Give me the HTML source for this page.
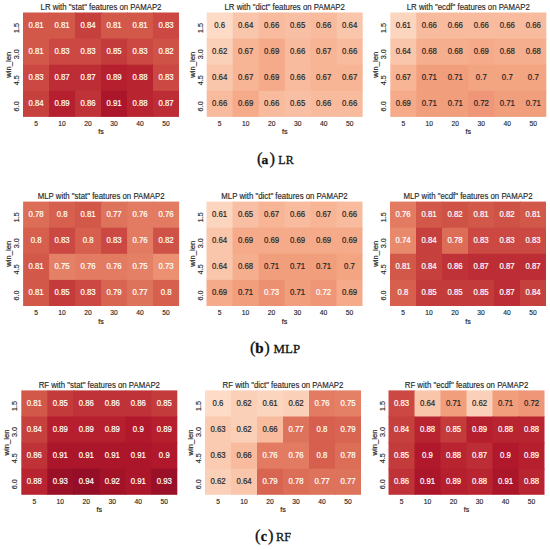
<!DOCTYPE html>
<html><head><meta charset="utf-8"><style>
html,body{margin:0;padding:0;background:#fff;}
body{width:550px;height:550px;overflow:hidden;}
svg{display:block;}
text{font-family:"Liberation Sans",sans-serif;}
.an,.ti,.tk,.lb{stroke-width:0.2px;paint-order:stroke;}
.ti,.tk,.lb{stroke:#262626;}
.tk{stroke-width:0.15px;}
.ti{stroke-width:0.15px;}
.cap{stroke-width:0.3px;stroke:#111;paint-order:stroke;}
.an{font-size:8.5px;text-anchor:middle;}
.ti{font-size:8.5px;text-anchor:middle;fill:#262626;}
.tk{font-size:7.3px;text-anchor:middle;fill:#262626;}
.lb{font-size:7.7px;text-anchor:middle;fill:#262626;}
.cap{font-family:"Liberation Serif",serif;}
</style></head><body>
<svg width="550" height="550" viewBox="0 0 550 550">
<rect width="550" height="550" fill="#fff"/>
<rect x="23.00" y="12.50" width="27.00" height="27.10" fill="#d25849"/>
<rect x="49.00" y="12.50" width="27.00" height="27.10" fill="#d25849"/>
<rect x="75.00" y="12.50" width="27.00" height="27.10" fill="#c6413e"/>
<rect x="101.00" y="12.50" width="27.00" height="27.10" fill="#d25849"/>
<rect x="127.00" y="12.50" width="27.00" height="27.10" fill="#d25849"/>
<rect x="153.00" y="12.50" width="26.00" height="27.10" fill="#cb4942"/>
<rect x="23.00" y="38.60" width="27.00" height="27.10" fill="#d25849"/>
<rect x="49.00" y="38.60" width="27.00" height="27.10" fill="#cb4942"/>
<rect x="75.00" y="38.60" width="27.00" height="27.10" fill="#cb4942"/>
<rect x="101.00" y="38.60" width="27.00" height="27.10" fill="#c43b3c"/>
<rect x="127.00" y="38.60" width="27.00" height="27.10" fill="#cb4942"/>
<rect x="153.00" y="38.60" width="26.00" height="27.10" fill="#cf5246"/>
<rect x="23.00" y="64.70" width="27.00" height="27.10" fill="#cb4942"/>
<rect x="49.00" y="64.70" width="27.00" height="27.10" fill="#bd2d35"/>
<rect x="75.00" y="64.70" width="27.00" height="27.10" fill="#bd2d35"/>
<rect x="101.00" y="64.70" width="27.00" height="27.10" fill="#b61f2e"/>
<rect x="127.00" y="64.70" width="27.00" height="27.10" fill="#b82531"/>
<rect x="153.00" y="64.70" width="26.00" height="27.10" fill="#cb4942"/>
<rect x="23.00" y="90.80" width="27.00" height="26.10" fill="#c6413e"/>
<rect x="49.00" y="90.80" width="27.00" height="26.10" fill="#b61f2e"/>
<rect x="75.00" y="90.80" width="27.00" height="26.10" fill="#bf3338"/>
<rect x="101.00" y="90.80" width="27.00" height="26.10" fill="#ab162a"/>
<rect x="127.00" y="90.80" width="27.00" height="26.10" fill="#b82531"/>
<rect x="153.00" y="90.80" width="26.00" height="26.10" fill="#bd2d35"/>
<text transform="translate(36.00,28.05) scale(0.92,1)" fill="#ffffff" stroke="#ffffff" class="an">0.81</text>
<text transform="translate(62.00,28.05) scale(0.92,1)" fill="#ffffff" stroke="#ffffff" class="an">0.81</text>
<text transform="translate(88.00,28.05) scale(0.92,1)" fill="#ffffff" stroke="#ffffff" class="an">0.84</text>
<text transform="translate(114.00,28.05) scale(0.92,1)" fill="#ffffff" stroke="#ffffff" class="an">0.81</text>
<text transform="translate(140.00,28.05) scale(0.92,1)" fill="#ffffff" stroke="#ffffff" class="an">0.81</text>
<text transform="translate(166.00,28.05) scale(0.92,1)" fill="#ffffff" stroke="#ffffff" class="an">0.83</text>
<text transform="translate(36.00,54.15) scale(0.92,1)" fill="#ffffff" stroke="#ffffff" class="an">0.81</text>
<text transform="translate(62.00,54.15) scale(0.92,1)" fill="#ffffff" stroke="#ffffff" class="an">0.83</text>
<text transform="translate(88.00,54.15) scale(0.92,1)" fill="#ffffff" stroke="#ffffff" class="an">0.83</text>
<text transform="translate(114.00,54.15) scale(0.92,1)" fill="#ffffff" stroke="#ffffff" class="an">0.85</text>
<text transform="translate(140.00,54.15) scale(0.92,1)" fill="#ffffff" stroke="#ffffff" class="an">0.83</text>
<text transform="translate(166.00,54.15) scale(0.92,1)" fill="#ffffff" stroke="#ffffff" class="an">0.82</text>
<text transform="translate(36.00,80.25) scale(0.92,1)" fill="#ffffff" stroke="#ffffff" class="an">0.83</text>
<text transform="translate(62.00,80.25) scale(0.92,1)" fill="#ffffff" stroke="#ffffff" class="an">0.87</text>
<text transform="translate(88.00,80.25) scale(0.92,1)" fill="#ffffff" stroke="#ffffff" class="an">0.87</text>
<text transform="translate(114.00,80.25) scale(0.92,1)" fill="#ffffff" stroke="#ffffff" class="an">0.89</text>
<text transform="translate(140.00,80.25) scale(0.92,1)" fill="#ffffff" stroke="#ffffff" class="an">0.88</text>
<text transform="translate(166.00,80.25) scale(0.92,1)" fill="#ffffff" stroke="#ffffff" class="an">0.83</text>
<text transform="translate(36.00,106.35) scale(0.92,1)" fill="#ffffff" stroke="#ffffff" class="an">0.84</text>
<text transform="translate(62.00,106.35) scale(0.92,1)" fill="#ffffff" stroke="#ffffff" class="an">0.89</text>
<text transform="translate(88.00,106.35) scale(0.92,1)" fill="#ffffff" stroke="#ffffff" class="an">0.86</text>
<text transform="translate(114.00,106.35) scale(0.92,1)" fill="#ffffff" stroke="#ffffff" class="an">0.91</text>
<text transform="translate(140.00,106.35) scale(0.92,1)" fill="#ffffff" stroke="#ffffff" class="an">0.88</text>
<text transform="translate(166.00,106.35) scale(0.92,1)" fill="#ffffff" stroke="#ffffff" class="an">0.87</text>
<text transform="translate(101.00,10.00) scale(0.92,1)" class="ti">LR with &quot;stat&quot; features on PAMAP2</text>
<text transform="translate(36.00,125.90) scale(0.92,1)" class="tk">5</text>
<text transform="translate(62.00,125.90) scale(0.92,1)" class="tk">10</text>
<text transform="translate(88.00,125.90) scale(0.92,1)" class="tk">20</text>
<text transform="translate(114.00,125.90) scale(0.92,1)" class="tk">30</text>
<text transform="translate(140.00,125.90) scale(0.92,1)" class="tk">40</text>
<text transform="translate(166.00,125.90) scale(0.92,1)" class="tk">50</text>
<text transform="translate(19.00,28.05) scale(0.92,1) rotate(-90)" class="tk">1.5</text>
<text transform="translate(19.00,54.15) scale(0.92,1) rotate(-90)" class="tk">3.0</text>
<text transform="translate(19.00,80.25) scale(0.92,1) rotate(-90)" class="tk">4.5</text>
<text transform="translate(19.00,106.35) scale(0.92,1) rotate(-90)" class="tk">6.0</text>
<text transform="translate(101.00,134.40) scale(0.92,1)" class="lb">fs</text>
<text transform="translate(11.00,64.70) scale(0.92,1) rotate(-90)" class="lb">win_len</text>
<rect x="206.70" y="12.50" width="27.00" height="27.10" fill="#fddbc7"/>
<rect x="232.70" y="12.50" width="27.00" height="27.10" fill="#f9c6ac"/>
<rect x="258.70" y="12.50" width="27.00" height="27.10" fill="#f8bb9e"/>
<rect x="284.70" y="12.50" width="27.00" height="27.10" fill="#f8bfa4"/>
<rect x="310.70" y="12.50" width="27.00" height="27.10" fill="#f8bb9e"/>
<rect x="336.70" y="12.50" width="26.00" height="27.10" fill="#f9c6ac"/>
<rect x="206.70" y="38.60" width="27.00" height="27.10" fill="#fbd0b9"/>
<rect x="232.70" y="38.60" width="27.00" height="27.10" fill="#f7b596"/>
<rect x="258.70" y="38.60" width="27.00" height="27.10" fill="#f5aa89"/>
<rect x="284.70" y="38.60" width="27.00" height="27.10" fill="#f8bb9e"/>
<rect x="310.70" y="38.60" width="27.00" height="27.10" fill="#f7b596"/>
<rect x="336.70" y="38.60" width="26.00" height="27.10" fill="#f8bb9e"/>
<rect x="206.70" y="64.70" width="27.00" height="27.10" fill="#f9c6ac"/>
<rect x="232.70" y="64.70" width="27.00" height="27.10" fill="#f7b596"/>
<rect x="258.70" y="64.70" width="27.00" height="27.10" fill="#f5aa89"/>
<rect x="284.70" y="64.70" width="27.00" height="27.10" fill="#f8bb9e"/>
<rect x="310.70" y="64.70" width="27.00" height="27.10" fill="#f7b596"/>
<rect x="336.70" y="64.70" width="26.00" height="27.10" fill="#f7b596"/>
<rect x="206.70" y="90.80" width="27.00" height="26.10" fill="#f8bb9e"/>
<rect x="232.70" y="90.80" width="27.00" height="26.10" fill="#f5aa89"/>
<rect x="258.70" y="90.80" width="27.00" height="26.10" fill="#f8bb9e"/>
<rect x="284.70" y="90.80" width="27.00" height="26.10" fill="#f8bfa4"/>
<rect x="310.70" y="90.80" width="27.00" height="26.10" fill="#f8bb9e"/>
<rect x="336.70" y="90.80" width="26.00" height="26.10" fill="#f8bb9e"/>
<text transform="translate(219.70,28.05) scale(0.92,1)" fill="#262626" stroke="#262626" class="an">0.6</text>
<text transform="translate(245.70,28.05) scale(0.92,1)" fill="#262626" stroke="#262626" class="an">0.64</text>
<text transform="translate(271.70,28.05) scale(0.92,1)" fill="#262626" stroke="#262626" class="an">0.66</text>
<text transform="translate(297.70,28.05) scale(0.92,1)" fill="#262626" stroke="#262626" class="an">0.65</text>
<text transform="translate(323.70,28.05) scale(0.92,1)" fill="#262626" stroke="#262626" class="an">0.66</text>
<text transform="translate(349.70,28.05) scale(0.92,1)" fill="#262626" stroke="#262626" class="an">0.64</text>
<text transform="translate(219.70,54.15) scale(0.92,1)" fill="#262626" stroke="#262626" class="an">0.62</text>
<text transform="translate(245.70,54.15) scale(0.92,1)" fill="#262626" stroke="#262626" class="an">0.67</text>
<text transform="translate(271.70,54.15) scale(0.92,1)" fill="#262626" stroke="#262626" class="an">0.69</text>
<text transform="translate(297.70,54.15) scale(0.92,1)" fill="#262626" stroke="#262626" class="an">0.66</text>
<text transform="translate(323.70,54.15) scale(0.92,1)" fill="#262626" stroke="#262626" class="an">0.67</text>
<text transform="translate(349.70,54.15) scale(0.92,1)" fill="#262626" stroke="#262626" class="an">0.66</text>
<text transform="translate(219.70,80.25) scale(0.92,1)" fill="#262626" stroke="#262626" class="an">0.64</text>
<text transform="translate(245.70,80.25) scale(0.92,1)" fill="#262626" stroke="#262626" class="an">0.67</text>
<text transform="translate(271.70,80.25) scale(0.92,1)" fill="#262626" stroke="#262626" class="an">0.69</text>
<text transform="translate(297.70,80.25) scale(0.92,1)" fill="#262626" stroke="#262626" class="an">0.66</text>
<text transform="translate(323.70,80.25) scale(0.92,1)" fill="#262626" stroke="#262626" class="an">0.67</text>
<text transform="translate(349.70,80.25) scale(0.92,1)" fill="#262626" stroke="#262626" class="an">0.67</text>
<text transform="translate(219.70,106.35) scale(0.92,1)" fill="#262626" stroke="#262626" class="an">0.66</text>
<text transform="translate(245.70,106.35) scale(0.92,1)" fill="#262626" stroke="#262626" class="an">0.69</text>
<text transform="translate(271.70,106.35) scale(0.92,1)" fill="#262626" stroke="#262626" class="an">0.66</text>
<text transform="translate(297.70,106.35) scale(0.92,1)" fill="#262626" stroke="#262626" class="an">0.65</text>
<text transform="translate(323.70,106.35) scale(0.92,1)" fill="#262626" stroke="#262626" class="an">0.66</text>
<text transform="translate(349.70,106.35) scale(0.92,1)" fill="#262626" stroke="#262626" class="an">0.66</text>
<text transform="translate(284.70,10.00) scale(0.92,1)" class="ti">LR with &quot;dict&quot; features on PAMAP2</text>
<text transform="translate(219.70,125.90) scale(0.92,1)" class="tk">5</text>
<text transform="translate(245.70,125.90) scale(0.92,1)" class="tk">10</text>
<text transform="translate(271.70,125.90) scale(0.92,1)" class="tk">20</text>
<text transform="translate(297.70,125.90) scale(0.92,1)" class="tk">30</text>
<text transform="translate(323.70,125.90) scale(0.92,1)" class="tk">40</text>
<text transform="translate(349.70,125.90) scale(0.92,1)" class="tk">50</text>
<text transform="translate(202.70,28.05) scale(0.92,1) rotate(-90)" class="tk">1.5</text>
<text transform="translate(202.70,54.15) scale(0.92,1) rotate(-90)" class="tk">3.0</text>
<text transform="translate(202.70,80.25) scale(0.92,1) rotate(-90)" class="tk">4.5</text>
<text transform="translate(202.70,106.35) scale(0.92,1) rotate(-90)" class="tk">6.0</text>
<text transform="translate(284.70,134.40) scale(0.92,1)" class="lb">fs</text>
<text transform="translate(194.70,64.70) scale(0.92,1) rotate(-90)" class="lb">win_len</text>
<rect x="390.30" y="12.50" width="27.00" height="27.10" fill="#fcd5bf"/>
<rect x="416.30" y="12.50" width="27.00" height="27.10" fill="#f8bb9e"/>
<rect x="442.30" y="12.50" width="27.00" height="27.10" fill="#f8bb9e"/>
<rect x="468.30" y="12.50" width="27.00" height="27.10" fill="#f8bb9e"/>
<rect x="494.30" y="12.50" width="27.00" height="27.10" fill="#f8bb9e"/>
<rect x="520.30" y="12.50" width="26.00" height="27.10" fill="#f8bb9e"/>
<rect x="390.30" y="38.60" width="27.00" height="27.10" fill="#f9c6ac"/>
<rect x="416.30" y="38.60" width="27.00" height="27.10" fill="#f6af8e"/>
<rect x="442.30" y="38.60" width="27.00" height="27.10" fill="#f6af8e"/>
<rect x="468.30" y="38.60" width="27.00" height="27.10" fill="#f5aa89"/>
<rect x="494.30" y="38.60" width="27.00" height="27.10" fill="#f6af8e"/>
<rect x="520.30" y="38.60" width="26.00" height="27.10" fill="#f6af8e"/>
<rect x="390.30" y="64.70" width="27.00" height="27.10" fill="#f7b596"/>
<rect x="416.30" y="64.70" width="27.00" height="27.10" fill="#f19e7d"/>
<rect x="442.30" y="64.70" width="27.00" height="27.10" fill="#f19e7d"/>
<rect x="468.30" y="64.70" width="27.00" height="27.10" fill="#f3a481"/>
<rect x="494.30" y="64.70" width="27.00" height="27.10" fill="#f3a481"/>
<rect x="520.30" y="64.70" width="26.00" height="27.10" fill="#f3a481"/>
<rect x="390.30" y="90.80" width="27.00" height="26.10" fill="#f5aa89"/>
<rect x="416.30" y="90.80" width="27.00" height="26.10" fill="#f19e7d"/>
<rect x="442.30" y="90.80" width="27.00" height="26.10" fill="#f19e7d"/>
<rect x="468.30" y="90.80" width="27.00" height="26.10" fill="#ee9677"/>
<rect x="494.30" y="90.80" width="27.00" height="26.10" fill="#f19e7d"/>
<rect x="520.30" y="90.80" width="26.00" height="26.10" fill="#f19e7d"/>
<text transform="translate(403.30,28.05) scale(0.92,1)" fill="#262626" stroke="#262626" class="an">0.61</text>
<text transform="translate(429.30,28.05) scale(0.92,1)" fill="#262626" stroke="#262626" class="an">0.66</text>
<text transform="translate(455.30,28.05) scale(0.92,1)" fill="#262626" stroke="#262626" class="an">0.66</text>
<text transform="translate(481.30,28.05) scale(0.92,1)" fill="#262626" stroke="#262626" class="an">0.66</text>
<text transform="translate(507.30,28.05) scale(0.92,1)" fill="#262626" stroke="#262626" class="an">0.66</text>
<text transform="translate(533.30,28.05) scale(0.92,1)" fill="#262626" stroke="#262626" class="an">0.66</text>
<text transform="translate(403.30,54.15) scale(0.92,1)" fill="#262626" stroke="#262626" class="an">0.64</text>
<text transform="translate(429.30,54.15) scale(0.92,1)" fill="#262626" stroke="#262626" class="an">0.68</text>
<text transform="translate(455.30,54.15) scale(0.92,1)" fill="#262626" stroke="#262626" class="an">0.68</text>
<text transform="translate(481.30,54.15) scale(0.92,1)" fill="#262626" stroke="#262626" class="an">0.69</text>
<text transform="translate(507.30,54.15) scale(0.92,1)" fill="#262626" stroke="#262626" class="an">0.68</text>
<text transform="translate(533.30,54.15) scale(0.92,1)" fill="#262626" stroke="#262626" class="an">0.68</text>
<text transform="translate(403.30,80.25) scale(0.92,1)" fill="#262626" stroke="#262626" class="an">0.67</text>
<text transform="translate(429.30,80.25) scale(0.92,1)" fill="#262626" stroke="#262626" class="an">0.71</text>
<text transform="translate(455.30,80.25) scale(0.92,1)" fill="#262626" stroke="#262626" class="an">0.71</text>
<text transform="translate(481.30,80.25) scale(0.92,1)" fill="#262626" stroke="#262626" class="an">0.7</text>
<text transform="translate(507.30,80.25) scale(0.92,1)" fill="#262626" stroke="#262626" class="an">0.7</text>
<text transform="translate(533.30,80.25) scale(0.92,1)" fill="#262626" stroke="#262626" class="an">0.7</text>
<text transform="translate(403.30,106.35) scale(0.92,1)" fill="#262626" stroke="#262626" class="an">0.69</text>
<text transform="translate(429.30,106.35) scale(0.92,1)" fill="#262626" stroke="#262626" class="an">0.71</text>
<text transform="translate(455.30,106.35) scale(0.92,1)" fill="#262626" stroke="#262626" class="an">0.71</text>
<text transform="translate(481.30,106.35) scale(0.92,1)" fill="#262626" stroke="#262626" class="an">0.72</text>
<text transform="translate(507.30,106.35) scale(0.92,1)" fill="#262626" stroke="#262626" class="an">0.71</text>
<text transform="translate(533.30,106.35) scale(0.92,1)" fill="#262626" stroke="#262626" class="an">0.71</text>
<text transform="translate(468.30,10.00) scale(0.92,1)" class="ti">LR with &quot;ecdf&quot; features on PAMAP2</text>
<text transform="translate(403.30,125.90) scale(0.92,1)" class="tk">5</text>
<text transform="translate(429.30,125.90) scale(0.92,1)" class="tk">10</text>
<text transform="translate(455.30,125.90) scale(0.92,1)" class="tk">20</text>
<text transform="translate(481.30,125.90) scale(0.92,1)" class="tk">30</text>
<text transform="translate(507.30,125.90) scale(0.92,1)" class="tk">40</text>
<text transform="translate(533.30,125.90) scale(0.92,1)" class="tk">50</text>
<text transform="translate(386.30,28.05) scale(0.92,1) rotate(-90)" class="tk">1.5</text>
<text transform="translate(386.30,54.15) scale(0.92,1) rotate(-90)" class="tk">3.0</text>
<text transform="translate(386.30,80.25) scale(0.92,1) rotate(-90)" class="tk">4.5</text>
<text transform="translate(386.30,106.35) scale(0.92,1) rotate(-90)" class="tk">6.0</text>
<text transform="translate(468.30,134.40) scale(0.92,1)" class="lb">fs</text>
<text transform="translate(378.30,64.70) scale(0.92,1) rotate(-90)" class="lb">win_len</text>
<text x="256.96" y="163.70" font-size="16.5" class="cap" fill="#111">(</text>
<text x="261.50" y="163.70" font-size="13.5" font-weight="bold" class="cap" fill="#111">a</text>
<text x="269.40" y="163.70" font-size="16.5" class="cap" fill="#111">)</text>
<text x="278.35" y="163.70" font-size="12" class="cap" fill="#111" textLength="15.26" lengthAdjust="spacingAndGlyphs">LR</text>
<rect x="23.10" y="201.60" width="27.00" height="27.10" fill="#dc6e57"/>
<rect x="49.10" y="201.60" width="27.00" height="27.10" fill="#d6604d"/>
<rect x="75.10" y="201.60" width="27.00" height="27.10" fill="#d25849"/>
<rect x="101.10" y="201.60" width="27.00" height="27.10" fill="#de735c"/>
<rect x="127.10" y="201.60" width="27.00" height="27.10" fill="#e27b62"/>
<rect x="153.10" y="201.60" width="26.00" height="27.10" fill="#e27b62"/>
<rect x="23.10" y="227.70" width="27.00" height="27.10" fill="#d6604d"/>
<rect x="49.10" y="227.70" width="27.00" height="27.10" fill="#cb4942"/>
<rect x="75.10" y="227.70" width="27.00" height="27.10" fill="#d6604d"/>
<rect x="101.10" y="227.70" width="27.00" height="27.10" fill="#cb4942"/>
<rect x="127.10" y="227.70" width="27.00" height="27.10" fill="#e27b62"/>
<rect x="153.10" y="227.70" width="26.00" height="27.10" fill="#cf5246"/>
<rect x="23.10" y="253.80" width="27.00" height="27.10" fill="#d25849"/>
<rect x="49.10" y="253.80" width="27.00" height="27.10" fill="#e48066"/>
<rect x="75.10" y="253.80" width="27.00" height="27.10" fill="#e27b62"/>
<rect x="101.10" y="253.80" width="27.00" height="27.10" fill="#e27b62"/>
<rect x="127.10" y="253.80" width="27.00" height="27.10" fill="#e48066"/>
<rect x="153.10" y="253.80" width="26.00" height="27.10" fill="#eb9172"/>
<rect x="23.10" y="279.90" width="27.00" height="26.10" fill="#d25849"/>
<rect x="49.10" y="279.90" width="27.00" height="26.10" fill="#c43b3c"/>
<rect x="75.10" y="279.90" width="27.00" height="26.10" fill="#cb4942"/>
<rect x="101.10" y="279.90" width="27.00" height="26.10" fill="#d86551"/>
<rect x="127.10" y="279.90" width="27.00" height="26.10" fill="#de735c"/>
<rect x="153.10" y="279.90" width="26.00" height="26.10" fill="#d6604d"/>
<text transform="translate(36.10,217.15) scale(0.92,1)" fill="#ffffff" stroke="#ffffff" class="an">0.78</text>
<text transform="translate(62.10,217.15) scale(0.92,1)" fill="#ffffff" stroke="#ffffff" class="an">0.8</text>
<text transform="translate(88.10,217.15) scale(0.92,1)" fill="#ffffff" stroke="#ffffff" class="an">0.81</text>
<text transform="translate(114.10,217.15) scale(0.92,1)" fill="#ffffff" stroke="#ffffff" class="an">0.77</text>
<text transform="translate(140.10,217.15) scale(0.92,1)" fill="#ffffff" stroke="#ffffff" class="an">0.76</text>
<text transform="translate(166.10,217.15) scale(0.92,1)" fill="#ffffff" stroke="#ffffff" class="an">0.76</text>
<text transform="translate(36.10,243.25) scale(0.92,1)" fill="#ffffff" stroke="#ffffff" class="an">0.8</text>
<text transform="translate(62.10,243.25) scale(0.92,1)" fill="#ffffff" stroke="#ffffff" class="an">0.83</text>
<text transform="translate(88.10,243.25) scale(0.92,1)" fill="#ffffff" stroke="#ffffff" class="an">0.8</text>
<text transform="translate(114.10,243.25) scale(0.92,1)" fill="#ffffff" stroke="#ffffff" class="an">0.83</text>
<text transform="translate(140.10,243.25) scale(0.92,1)" fill="#ffffff" stroke="#ffffff" class="an">0.76</text>
<text transform="translate(166.10,243.25) scale(0.92,1)" fill="#ffffff" stroke="#ffffff" class="an">0.82</text>
<text transform="translate(36.10,269.35) scale(0.92,1)" fill="#ffffff" stroke="#ffffff" class="an">0.81</text>
<text transform="translate(62.10,269.35) scale(0.92,1)" fill="#ffffff" stroke="#ffffff" class="an">0.75</text>
<text transform="translate(88.10,269.35) scale(0.92,1)" fill="#ffffff" stroke="#ffffff" class="an">0.76</text>
<text transform="translate(114.10,269.35) scale(0.92,1)" fill="#ffffff" stroke="#ffffff" class="an">0.76</text>
<text transform="translate(140.10,269.35) scale(0.92,1)" fill="#ffffff" stroke="#ffffff" class="an">0.75</text>
<text transform="translate(166.10,269.35) scale(0.92,1)" fill="#ffffff" stroke="#ffffff" class="an">0.73</text>
<text transform="translate(36.10,295.45) scale(0.92,1)" fill="#ffffff" stroke="#ffffff" class="an">0.81</text>
<text transform="translate(62.10,295.45) scale(0.92,1)" fill="#ffffff" stroke="#ffffff" class="an">0.85</text>
<text transform="translate(88.10,295.45) scale(0.92,1)" fill="#ffffff" stroke="#ffffff" class="an">0.83</text>
<text transform="translate(114.10,295.45) scale(0.92,1)" fill="#ffffff" stroke="#ffffff" class="an">0.79</text>
<text transform="translate(140.10,295.45) scale(0.92,1)" fill="#ffffff" stroke="#ffffff" class="an">0.77</text>
<text transform="translate(166.10,295.45) scale(0.92,1)" fill="#ffffff" stroke="#ffffff" class="an">0.8</text>
<text transform="translate(101.10,199.10) scale(0.92,1)" class="ti">MLP with &quot;stat&quot; features on PAMAP2</text>
<text transform="translate(36.10,315.00) scale(0.92,1)" class="tk">5</text>
<text transform="translate(62.10,315.00) scale(0.92,1)" class="tk">10</text>
<text transform="translate(88.10,315.00) scale(0.92,1)" class="tk">20</text>
<text transform="translate(114.10,315.00) scale(0.92,1)" class="tk">30</text>
<text transform="translate(140.10,315.00) scale(0.92,1)" class="tk">40</text>
<text transform="translate(166.10,315.00) scale(0.92,1)" class="tk">50</text>
<text transform="translate(19.10,217.15) scale(0.92,1) rotate(-90)" class="tk">1.5</text>
<text transform="translate(19.10,243.25) scale(0.92,1) rotate(-90)" class="tk">3.0</text>
<text transform="translate(19.10,269.35) scale(0.92,1) rotate(-90)" class="tk">4.5</text>
<text transform="translate(19.10,295.45) scale(0.92,1) rotate(-90)" class="tk">6.0</text>
<text transform="translate(101.10,323.50) scale(0.92,1)" class="lb">fs</text>
<text transform="translate(11.10,253.80) scale(0.92,1) rotate(-90)" class="lb">win_len</text>
<rect x="206.50" y="201.60" width="27.00" height="27.10" fill="#fcd5bf"/>
<rect x="232.50" y="201.60" width="27.00" height="27.10" fill="#f8bfa4"/>
<rect x="258.50" y="201.60" width="27.00" height="27.10" fill="#f7b596"/>
<rect x="284.50" y="201.60" width="27.00" height="27.10" fill="#f8bb9e"/>
<rect x="310.50" y="201.60" width="27.00" height="27.10" fill="#f7b596"/>
<rect x="336.50" y="201.60" width="26.00" height="27.10" fill="#f8bb9e"/>
<rect x="206.50" y="227.70" width="27.00" height="27.10" fill="#f9c6ac"/>
<rect x="232.50" y="227.70" width="27.00" height="27.10" fill="#f5aa89"/>
<rect x="258.50" y="227.70" width="27.00" height="27.10" fill="#f5aa89"/>
<rect x="284.50" y="227.70" width="27.00" height="27.10" fill="#f5aa89"/>
<rect x="310.50" y="227.70" width="27.00" height="27.10" fill="#f5aa89"/>
<rect x="336.50" y="227.70" width="26.00" height="27.10" fill="#f5aa89"/>
<rect x="206.50" y="253.80" width="27.00" height="27.10" fill="#f9c6ac"/>
<rect x="232.50" y="253.80" width="27.00" height="27.10" fill="#f6af8e"/>
<rect x="258.50" y="253.80" width="27.00" height="27.10" fill="#f19e7d"/>
<rect x="284.50" y="253.80" width="27.00" height="27.10" fill="#f19e7d"/>
<rect x="310.50" y="253.80" width="27.00" height="27.10" fill="#f19e7d"/>
<rect x="336.50" y="253.80" width="26.00" height="27.10" fill="#f3a481"/>
<rect x="206.50" y="279.90" width="27.00" height="26.10" fill="#f5aa89"/>
<rect x="232.50" y="279.90" width="27.00" height="26.10" fill="#f19e7d"/>
<rect x="258.50" y="279.90" width="27.00" height="26.10" fill="#eb9172"/>
<rect x="284.50" y="279.90" width="27.00" height="26.10" fill="#f19e7d"/>
<rect x="310.50" y="279.90" width="27.00" height="26.10" fill="#ee9677"/>
<rect x="336.50" y="279.90" width="26.00" height="26.10" fill="#f5aa89"/>
<text transform="translate(219.50,217.15) scale(0.92,1)" fill="#262626" stroke="#262626" class="an">0.61</text>
<text transform="translate(245.50,217.15) scale(0.92,1)" fill="#262626" stroke="#262626" class="an">0.65</text>
<text transform="translate(271.50,217.15) scale(0.92,1)" fill="#262626" stroke="#262626" class="an">0.67</text>
<text transform="translate(297.50,217.15) scale(0.92,1)" fill="#262626" stroke="#262626" class="an">0.66</text>
<text transform="translate(323.50,217.15) scale(0.92,1)" fill="#262626" stroke="#262626" class="an">0.67</text>
<text transform="translate(349.50,217.15) scale(0.92,1)" fill="#262626" stroke="#262626" class="an">0.66</text>
<text transform="translate(219.50,243.25) scale(0.92,1)" fill="#262626" stroke="#262626" class="an">0.64</text>
<text transform="translate(245.50,243.25) scale(0.92,1)" fill="#262626" stroke="#262626" class="an">0.69</text>
<text transform="translate(271.50,243.25) scale(0.92,1)" fill="#262626" stroke="#262626" class="an">0.69</text>
<text transform="translate(297.50,243.25) scale(0.92,1)" fill="#262626" stroke="#262626" class="an">0.69</text>
<text transform="translate(323.50,243.25) scale(0.92,1)" fill="#262626" stroke="#262626" class="an">0.69</text>
<text transform="translate(349.50,243.25) scale(0.92,1)" fill="#262626" stroke="#262626" class="an">0.69</text>
<text transform="translate(219.50,269.35) scale(0.92,1)" fill="#262626" stroke="#262626" class="an">0.64</text>
<text transform="translate(245.50,269.35) scale(0.92,1)" fill="#262626" stroke="#262626" class="an">0.68</text>
<text transform="translate(271.50,269.35) scale(0.92,1)" fill="#262626" stroke="#262626" class="an">0.71</text>
<text transform="translate(297.50,269.35) scale(0.92,1)" fill="#262626" stroke="#262626" class="an">0.71</text>
<text transform="translate(323.50,269.35) scale(0.92,1)" fill="#262626" stroke="#262626" class="an">0.71</text>
<text transform="translate(349.50,269.35) scale(0.92,1)" fill="#262626" stroke="#262626" class="an">0.7</text>
<text transform="translate(219.50,295.45) scale(0.92,1)" fill="#262626" stroke="#262626" class="an">0.69</text>
<text transform="translate(245.50,295.45) scale(0.92,1)" fill="#262626" stroke="#262626" class="an">0.71</text>
<text transform="translate(271.50,295.45) scale(0.92,1)" fill="#ffffff" stroke="#ffffff" class="an">0.73</text>
<text transform="translate(297.50,295.45) scale(0.92,1)" fill="#262626" stroke="#262626" class="an">0.71</text>
<text transform="translate(323.50,295.45) scale(0.92,1)" fill="#ffffff" stroke="#ffffff" class="an">0.72</text>
<text transform="translate(349.50,295.45) scale(0.92,1)" fill="#262626" stroke="#262626" class="an">0.69</text>
<text transform="translate(284.50,199.10) scale(0.92,1)" class="ti">MLP with &quot;dict&quot; features on PAMAP2</text>
<text transform="translate(219.50,315.00) scale(0.92,1)" class="tk">5</text>
<text transform="translate(245.50,315.00) scale(0.92,1)" class="tk">10</text>
<text transform="translate(271.50,315.00) scale(0.92,1)" class="tk">20</text>
<text transform="translate(297.50,315.00) scale(0.92,1)" class="tk">30</text>
<text transform="translate(323.50,315.00) scale(0.92,1)" class="tk">40</text>
<text transform="translate(349.50,315.00) scale(0.92,1)" class="tk">50</text>
<text transform="translate(202.50,217.15) scale(0.92,1) rotate(-90)" class="tk">1.5</text>
<text transform="translate(202.50,243.25) scale(0.92,1) rotate(-90)" class="tk">3.0</text>
<text transform="translate(202.50,269.35) scale(0.92,1) rotate(-90)" class="tk">4.5</text>
<text transform="translate(202.50,295.45) scale(0.92,1) rotate(-90)" class="tk">6.0</text>
<text transform="translate(284.50,323.50) scale(0.92,1)" class="lb">fs</text>
<text transform="translate(194.50,253.80) scale(0.92,1) rotate(-90)" class="lb">win_len</text>
<rect x="390.00" y="201.60" width="27.00" height="27.10" fill="#e27b62"/>
<rect x="416.00" y="201.60" width="27.00" height="27.10" fill="#d25849"/>
<rect x="442.00" y="201.60" width="27.00" height="27.10" fill="#cf5246"/>
<rect x="468.00" y="201.60" width="27.00" height="27.10" fill="#d25849"/>
<rect x="494.00" y="201.60" width="27.00" height="27.10" fill="#cf5246"/>
<rect x="520.00" y="201.60" width="26.00" height="27.10" fill="#d25849"/>
<rect x="390.00" y="227.70" width="27.00" height="27.10" fill="#e8896c"/>
<rect x="416.00" y="227.70" width="27.00" height="27.10" fill="#c6413e"/>
<rect x="442.00" y="227.70" width="27.00" height="27.10" fill="#dc6e57"/>
<rect x="468.00" y="227.70" width="27.00" height="27.10" fill="#cb4942"/>
<rect x="494.00" y="227.70" width="27.00" height="27.10" fill="#cb4942"/>
<rect x="520.00" y="227.70" width="26.00" height="27.10" fill="#cb4942"/>
<rect x="390.00" y="253.80" width="27.00" height="27.10" fill="#d25849"/>
<rect x="416.00" y="253.80" width="27.00" height="27.10" fill="#c6413e"/>
<rect x="442.00" y="253.80" width="27.00" height="27.10" fill="#bf3338"/>
<rect x="468.00" y="253.80" width="27.00" height="27.10" fill="#bd2d35"/>
<rect x="494.00" y="253.80" width="27.00" height="27.10" fill="#bd2d35"/>
<rect x="520.00" y="253.80" width="26.00" height="27.10" fill="#bd2d35"/>
<rect x="390.00" y="279.90" width="27.00" height="26.10" fill="#d6604d"/>
<rect x="416.00" y="279.90" width="27.00" height="26.10" fill="#c43b3c"/>
<rect x="442.00" y="279.90" width="27.00" height="26.10" fill="#c43b3c"/>
<rect x="468.00" y="279.90" width="27.00" height="26.10" fill="#c43b3c"/>
<rect x="494.00" y="279.90" width="27.00" height="26.10" fill="#bd2d35"/>
<rect x="520.00" y="279.90" width="26.00" height="26.10" fill="#c6413e"/>
<text transform="translate(403.00,217.15) scale(0.92,1)" fill="#ffffff" stroke="#ffffff" class="an">0.76</text>
<text transform="translate(429.00,217.15) scale(0.92,1)" fill="#ffffff" stroke="#ffffff" class="an">0.81</text>
<text transform="translate(455.00,217.15) scale(0.92,1)" fill="#ffffff" stroke="#ffffff" class="an">0.82</text>
<text transform="translate(481.00,217.15) scale(0.92,1)" fill="#ffffff" stroke="#ffffff" class="an">0.81</text>
<text transform="translate(507.00,217.15) scale(0.92,1)" fill="#ffffff" stroke="#ffffff" class="an">0.82</text>
<text transform="translate(533.00,217.15) scale(0.92,1)" fill="#ffffff" stroke="#ffffff" class="an">0.81</text>
<text transform="translate(403.00,243.25) scale(0.92,1)" fill="#ffffff" stroke="#ffffff" class="an">0.74</text>
<text transform="translate(429.00,243.25) scale(0.92,1)" fill="#ffffff" stroke="#ffffff" class="an">0.84</text>
<text transform="translate(455.00,243.25) scale(0.92,1)" fill="#ffffff" stroke="#ffffff" class="an">0.78</text>
<text transform="translate(481.00,243.25) scale(0.92,1)" fill="#ffffff" stroke="#ffffff" class="an">0.83</text>
<text transform="translate(507.00,243.25) scale(0.92,1)" fill="#ffffff" stroke="#ffffff" class="an">0.83</text>
<text transform="translate(533.00,243.25) scale(0.92,1)" fill="#ffffff" stroke="#ffffff" class="an">0.83</text>
<text transform="translate(403.00,269.35) scale(0.92,1)" fill="#ffffff" stroke="#ffffff" class="an">0.81</text>
<text transform="translate(429.00,269.35) scale(0.92,1)" fill="#ffffff" stroke="#ffffff" class="an">0.84</text>
<text transform="translate(455.00,269.35) scale(0.92,1)" fill="#ffffff" stroke="#ffffff" class="an">0.86</text>
<text transform="translate(481.00,269.35) scale(0.92,1)" fill="#ffffff" stroke="#ffffff" class="an">0.87</text>
<text transform="translate(507.00,269.35) scale(0.92,1)" fill="#ffffff" stroke="#ffffff" class="an">0.87</text>
<text transform="translate(533.00,269.35) scale(0.92,1)" fill="#ffffff" stroke="#ffffff" class="an">0.87</text>
<text transform="translate(403.00,295.45) scale(0.92,1)" fill="#ffffff" stroke="#ffffff" class="an">0.8</text>
<text transform="translate(429.00,295.45) scale(0.92,1)" fill="#ffffff" stroke="#ffffff" class="an">0.85</text>
<text transform="translate(455.00,295.45) scale(0.92,1)" fill="#ffffff" stroke="#ffffff" class="an">0.85</text>
<text transform="translate(481.00,295.45) scale(0.92,1)" fill="#ffffff" stroke="#ffffff" class="an">0.85</text>
<text transform="translate(507.00,295.45) scale(0.92,1)" fill="#ffffff" stroke="#ffffff" class="an">0.87</text>
<text transform="translate(533.00,295.45) scale(0.92,1)" fill="#ffffff" stroke="#ffffff" class="an">0.84</text>
<text transform="translate(468.00,199.10) scale(0.92,1)" class="ti">MLP with &quot;ecdf&quot; features on PAMAP2</text>
<text transform="translate(403.00,315.00) scale(0.92,1)" class="tk">5</text>
<text transform="translate(429.00,315.00) scale(0.92,1)" class="tk">10</text>
<text transform="translate(455.00,315.00) scale(0.92,1)" class="tk">20</text>
<text transform="translate(481.00,315.00) scale(0.92,1)" class="tk">30</text>
<text transform="translate(507.00,315.00) scale(0.92,1)" class="tk">40</text>
<text transform="translate(533.00,315.00) scale(0.92,1)" class="tk">50</text>
<text transform="translate(386.00,217.15) scale(0.92,1) rotate(-90)" class="tk">1.5</text>
<text transform="translate(386.00,243.25) scale(0.92,1) rotate(-90)" class="tk">3.0</text>
<text transform="translate(386.00,269.35) scale(0.92,1) rotate(-90)" class="tk">4.5</text>
<text transform="translate(386.00,295.45) scale(0.92,1) rotate(-90)" class="tk">6.0</text>
<text transform="translate(468.00,323.50) scale(0.92,1)" class="lb">fs</text>
<text transform="translate(378.00,253.80) scale(0.92,1) rotate(-90)" class="lb">win_len</text>
<text x="249.96" y="352.70" font-size="16.5" class="cap" fill="#111">(</text>
<text x="255.18" y="352.70" font-size="15" font-weight="bold" class="cap" fill="#111">b</text>
<text x="264.20" y="352.70" font-size="16.5" class="cap" fill="#111">)</text>
<text x="273.60" y="352.70" font-size="12" class="cap" fill="#111" textLength="26.50" lengthAdjust="spacingAndGlyphs">MLP</text>
<rect x="21.30" y="390.40" width="27.00" height="27.10" fill="#d25849"/>
<rect x="47.30" y="390.40" width="27.00" height="27.10" fill="#c43b3c"/>
<rect x="73.30" y="390.40" width="27.00" height="27.10" fill="#bf3338"/>
<rect x="99.30" y="390.40" width="27.00" height="27.10" fill="#bf3338"/>
<rect x="125.30" y="390.40" width="27.00" height="27.10" fill="#bf3338"/>
<rect x="151.30" y="390.40" width="26.00" height="27.10" fill="#c43b3c"/>
<rect x="21.30" y="416.50" width="27.00" height="27.10" fill="#c6413e"/>
<rect x="47.30" y="416.50" width="27.00" height="27.10" fill="#b61f2e"/>
<rect x="73.30" y="416.50" width="27.00" height="27.10" fill="#b61f2e"/>
<rect x="99.30" y="416.50" width="27.00" height="27.10" fill="#b61f2e"/>
<rect x="125.30" y="416.50" width="27.00" height="27.10" fill="#b1182b"/>
<rect x="151.30" y="416.50" width="26.00" height="27.10" fill="#b61f2e"/>
<rect x="21.30" y="442.60" width="27.00" height="27.10" fill="#bf3338"/>
<rect x="47.30" y="442.60" width="27.00" height="27.10" fill="#ab162a"/>
<rect x="73.30" y="442.60" width="27.00" height="27.10" fill="#ab162a"/>
<rect x="99.30" y="442.60" width="27.00" height="27.10" fill="#ab162a"/>
<rect x="125.30" y="442.60" width="27.00" height="27.10" fill="#ab162a"/>
<rect x="151.30" y="442.60" width="26.00" height="27.10" fill="#b1182b"/>
<rect x="21.30" y="468.70" width="27.00" height="26.10" fill="#b82531"/>
<rect x="47.30" y="468.70" width="27.00" height="26.10" fill="#991027"/>
<rect x="73.30" y="468.70" width="27.00" height="26.10" fill="#930e26"/>
<rect x="99.30" y="468.70" width="27.00" height="26.10" fill="#a21328"/>
<rect x="125.30" y="468.70" width="27.00" height="26.10" fill="#ab162a"/>
<rect x="151.30" y="468.70" width="26.00" height="26.10" fill="#991027"/>
<text transform="translate(34.30,405.95) scale(0.92,1)" fill="#ffffff" stroke="#ffffff" class="an">0.81</text>
<text transform="translate(60.30,405.95) scale(0.92,1)" fill="#ffffff" stroke="#ffffff" class="an">0.85</text>
<text transform="translate(86.30,405.95) scale(0.92,1)" fill="#ffffff" stroke="#ffffff" class="an">0.86</text>
<text transform="translate(112.30,405.95) scale(0.92,1)" fill="#ffffff" stroke="#ffffff" class="an">0.86</text>
<text transform="translate(138.30,405.95) scale(0.92,1)" fill="#ffffff" stroke="#ffffff" class="an">0.86</text>
<text transform="translate(164.30,405.95) scale(0.92,1)" fill="#ffffff" stroke="#ffffff" class="an">0.85</text>
<text transform="translate(34.30,432.05) scale(0.92,1)" fill="#ffffff" stroke="#ffffff" class="an">0.84</text>
<text transform="translate(60.30,432.05) scale(0.92,1)" fill="#ffffff" stroke="#ffffff" class="an">0.89</text>
<text transform="translate(86.30,432.05) scale(0.92,1)" fill="#ffffff" stroke="#ffffff" class="an">0.89</text>
<text transform="translate(112.30,432.05) scale(0.92,1)" fill="#ffffff" stroke="#ffffff" class="an">0.89</text>
<text transform="translate(138.30,432.05) scale(0.92,1)" fill="#ffffff" stroke="#ffffff" class="an">0.9</text>
<text transform="translate(164.30,432.05) scale(0.92,1)" fill="#ffffff" stroke="#ffffff" class="an">0.89</text>
<text transform="translate(34.30,458.15) scale(0.92,1)" fill="#ffffff" stroke="#ffffff" class="an">0.86</text>
<text transform="translate(60.30,458.15) scale(0.92,1)" fill="#ffffff" stroke="#ffffff" class="an">0.91</text>
<text transform="translate(86.30,458.15) scale(0.92,1)" fill="#ffffff" stroke="#ffffff" class="an">0.91</text>
<text transform="translate(112.30,458.15) scale(0.92,1)" fill="#ffffff" stroke="#ffffff" class="an">0.91</text>
<text transform="translate(138.30,458.15) scale(0.92,1)" fill="#ffffff" stroke="#ffffff" class="an">0.91</text>
<text transform="translate(164.30,458.15) scale(0.92,1)" fill="#ffffff" stroke="#ffffff" class="an">0.9</text>
<text transform="translate(34.30,484.25) scale(0.92,1)" fill="#ffffff" stroke="#ffffff" class="an">0.88</text>
<text transform="translate(60.30,484.25) scale(0.92,1)" fill="#ffffff" stroke="#ffffff" class="an">0.93</text>
<text transform="translate(86.30,484.25) scale(0.92,1)" fill="#ffffff" stroke="#ffffff" class="an">0.94</text>
<text transform="translate(112.30,484.25) scale(0.92,1)" fill="#ffffff" stroke="#ffffff" class="an">0.92</text>
<text transform="translate(138.30,484.25) scale(0.92,1)" fill="#ffffff" stroke="#ffffff" class="an">0.91</text>
<text transform="translate(164.30,484.25) scale(0.92,1)" fill="#ffffff" stroke="#ffffff" class="an">0.93</text>
<text transform="translate(99.30,387.90) scale(0.92,1)" class="ti">RF with &quot;stat&quot; features on PAMAP2</text>
<text transform="translate(34.30,503.80) scale(0.92,1)" class="tk">5</text>
<text transform="translate(60.30,503.80) scale(0.92,1)" class="tk">10</text>
<text transform="translate(86.30,503.80) scale(0.92,1)" class="tk">20</text>
<text transform="translate(112.30,503.80) scale(0.92,1)" class="tk">30</text>
<text transform="translate(138.30,503.80) scale(0.92,1)" class="tk">40</text>
<text transform="translate(164.30,503.80) scale(0.92,1)" class="tk">50</text>
<text transform="translate(17.30,405.95) scale(0.92,1) rotate(-90)" class="tk">1.5</text>
<text transform="translate(17.30,432.05) scale(0.92,1) rotate(-90)" class="tk">3.0</text>
<text transform="translate(17.30,458.15) scale(0.92,1) rotate(-90)" class="tk">4.5</text>
<text transform="translate(17.30,484.25) scale(0.92,1) rotate(-90)" class="tk">6.0</text>
<text transform="translate(99.30,512.30) scale(0.92,1)" class="lb">fs</text>
<text transform="translate(9.30,442.60) scale(0.92,1) rotate(-90)" class="lb">win_len</text>
<rect x="205.00" y="390.40" width="27.00" height="27.10" fill="#fddbc7"/>
<rect x="231.00" y="390.40" width="27.00" height="27.10" fill="#fbd0b9"/>
<rect x="257.00" y="390.40" width="27.00" height="27.10" fill="#fcd5bf"/>
<rect x="283.00" y="390.40" width="27.00" height="27.10" fill="#fbd0b9"/>
<rect x="309.00" y="390.40" width="27.00" height="27.10" fill="#e27b62"/>
<rect x="335.00" y="390.40" width="26.00" height="27.10" fill="#e48066"/>
<rect x="205.00" y="416.50" width="27.00" height="27.10" fill="#facab1"/>
<rect x="231.00" y="416.50" width="27.00" height="27.10" fill="#fbd0b9"/>
<rect x="257.00" y="416.50" width="27.00" height="27.10" fill="#f8bb9e"/>
<rect x="283.00" y="416.50" width="27.00" height="27.10" fill="#de735c"/>
<rect x="309.00" y="416.50" width="27.00" height="27.10" fill="#d6604d"/>
<rect x="335.00" y="416.50" width="26.00" height="27.10" fill="#d86551"/>
<rect x="205.00" y="442.60" width="27.00" height="27.10" fill="#facab1"/>
<rect x="231.00" y="442.60" width="27.00" height="27.10" fill="#f8bb9e"/>
<rect x="257.00" y="442.60" width="27.00" height="27.10" fill="#e27b62"/>
<rect x="283.00" y="442.60" width="27.00" height="27.10" fill="#e27b62"/>
<rect x="309.00" y="442.60" width="27.00" height="27.10" fill="#d6604d"/>
<rect x="335.00" y="442.60" width="26.00" height="27.10" fill="#dc6e57"/>
<rect x="205.00" y="468.70" width="27.00" height="26.10" fill="#fbd0b9"/>
<rect x="231.00" y="468.70" width="27.00" height="26.10" fill="#f9c6ac"/>
<rect x="257.00" y="468.70" width="27.00" height="26.10" fill="#d86551"/>
<rect x="283.00" y="468.70" width="27.00" height="26.10" fill="#dc6e57"/>
<rect x="309.00" y="468.70" width="27.00" height="26.10" fill="#de735c"/>
<rect x="335.00" y="468.70" width="26.00" height="26.10" fill="#de735c"/>
<text transform="translate(218.00,405.95) scale(0.92,1)" fill="#262626" stroke="#262626" class="an">0.6</text>
<text transform="translate(244.00,405.95) scale(0.92,1)" fill="#262626" stroke="#262626" class="an">0.62</text>
<text transform="translate(270.00,405.95) scale(0.92,1)" fill="#262626" stroke="#262626" class="an">0.61</text>
<text transform="translate(296.00,405.95) scale(0.92,1)" fill="#262626" stroke="#262626" class="an">0.62</text>
<text transform="translate(322.00,405.95) scale(0.92,1)" fill="#ffffff" stroke="#ffffff" class="an">0.76</text>
<text transform="translate(348.00,405.95) scale(0.92,1)" fill="#ffffff" stroke="#ffffff" class="an">0.75</text>
<text transform="translate(218.00,432.05) scale(0.92,1)" fill="#262626" stroke="#262626" class="an">0.63</text>
<text transform="translate(244.00,432.05) scale(0.92,1)" fill="#262626" stroke="#262626" class="an">0.62</text>
<text transform="translate(270.00,432.05) scale(0.92,1)" fill="#262626" stroke="#262626" class="an">0.66</text>
<text transform="translate(296.00,432.05) scale(0.92,1)" fill="#ffffff" stroke="#ffffff" class="an">0.77</text>
<text transform="translate(322.00,432.05) scale(0.92,1)" fill="#ffffff" stroke="#ffffff" class="an">0.8</text>
<text transform="translate(348.00,432.05) scale(0.92,1)" fill="#ffffff" stroke="#ffffff" class="an">0.79</text>
<text transform="translate(218.00,458.15) scale(0.92,1)" fill="#262626" stroke="#262626" class="an">0.63</text>
<text transform="translate(244.00,458.15) scale(0.92,1)" fill="#262626" stroke="#262626" class="an">0.66</text>
<text transform="translate(270.00,458.15) scale(0.92,1)" fill="#ffffff" stroke="#ffffff" class="an">0.76</text>
<text transform="translate(296.00,458.15) scale(0.92,1)" fill="#ffffff" stroke="#ffffff" class="an">0.76</text>
<text transform="translate(322.00,458.15) scale(0.92,1)" fill="#ffffff" stroke="#ffffff" class="an">0.8</text>
<text transform="translate(348.00,458.15) scale(0.92,1)" fill="#ffffff" stroke="#ffffff" class="an">0.78</text>
<text transform="translate(218.00,484.25) scale(0.92,1)" fill="#262626" stroke="#262626" class="an">0.62</text>
<text transform="translate(244.00,484.25) scale(0.92,1)" fill="#262626" stroke="#262626" class="an">0.64</text>
<text transform="translate(270.00,484.25) scale(0.92,1)" fill="#ffffff" stroke="#ffffff" class="an">0.79</text>
<text transform="translate(296.00,484.25) scale(0.92,1)" fill="#ffffff" stroke="#ffffff" class="an">0.78</text>
<text transform="translate(322.00,484.25) scale(0.92,1)" fill="#ffffff" stroke="#ffffff" class="an">0.77</text>
<text transform="translate(348.00,484.25) scale(0.92,1)" fill="#ffffff" stroke="#ffffff" class="an">0.77</text>
<text transform="translate(283.00,387.90) scale(0.92,1)" class="ti">RF with &quot;dict&quot; features on PAMAP2</text>
<text transform="translate(218.00,503.80) scale(0.92,1)" class="tk">5</text>
<text transform="translate(244.00,503.80) scale(0.92,1)" class="tk">10</text>
<text transform="translate(270.00,503.80) scale(0.92,1)" class="tk">20</text>
<text transform="translate(296.00,503.80) scale(0.92,1)" class="tk">30</text>
<text transform="translate(322.00,503.80) scale(0.92,1)" class="tk">40</text>
<text transform="translate(348.00,503.80) scale(0.92,1)" class="tk">50</text>
<text transform="translate(201.00,405.95) scale(0.92,1) rotate(-90)" class="tk">1.5</text>
<text transform="translate(201.00,432.05) scale(0.92,1) rotate(-90)" class="tk">3.0</text>
<text transform="translate(201.00,458.15) scale(0.92,1) rotate(-90)" class="tk">4.5</text>
<text transform="translate(201.00,484.25) scale(0.92,1) rotate(-90)" class="tk">6.0</text>
<text transform="translate(283.00,512.30) scale(0.92,1)" class="lb">fs</text>
<text transform="translate(193.00,442.60) scale(0.92,1) rotate(-90)" class="lb">win_len</text>
<rect x="388.50" y="390.40" width="27.00" height="27.10" fill="#cb4942"/>
<rect x="414.50" y="390.40" width="27.00" height="27.10" fill="#f9c6ac"/>
<rect x="440.50" y="390.40" width="27.00" height="27.10" fill="#f19e7d"/>
<rect x="466.50" y="390.40" width="27.00" height="27.10" fill="#fbd0b9"/>
<rect x="492.50" y="390.40" width="27.00" height="27.10" fill="#f19e7d"/>
<rect x="518.50" y="390.40" width="26.00" height="27.10" fill="#ee9677"/>
<rect x="388.50" y="416.50" width="27.00" height="27.10" fill="#c6413e"/>
<rect x="414.50" y="416.50" width="27.00" height="27.10" fill="#b82531"/>
<rect x="440.50" y="416.50" width="27.00" height="27.10" fill="#c43b3c"/>
<rect x="466.50" y="416.50" width="27.00" height="27.10" fill="#b61f2e"/>
<rect x="492.50" y="416.50" width="27.00" height="27.10" fill="#b82531"/>
<rect x="518.50" y="416.50" width="26.00" height="27.10" fill="#b82531"/>
<rect x="388.50" y="442.60" width="27.00" height="27.10" fill="#c43b3c"/>
<rect x="414.50" y="442.60" width="27.00" height="27.10" fill="#b1182b"/>
<rect x="440.50" y="442.60" width="27.00" height="27.10" fill="#b82531"/>
<rect x="466.50" y="442.60" width="27.00" height="27.10" fill="#bd2d35"/>
<rect x="492.50" y="442.60" width="27.00" height="27.10" fill="#b1182b"/>
<rect x="518.50" y="442.60" width="26.00" height="27.10" fill="#b61f2e"/>
<rect x="388.50" y="468.70" width="27.00" height="26.10" fill="#bf3338"/>
<rect x="414.50" y="468.70" width="27.00" height="26.10" fill="#ab162a"/>
<rect x="440.50" y="468.70" width="27.00" height="26.10" fill="#b61f2e"/>
<rect x="466.50" y="468.70" width="27.00" height="26.10" fill="#b82531"/>
<rect x="492.50" y="468.70" width="27.00" height="26.10" fill="#ab162a"/>
<rect x="518.50" y="468.70" width="26.00" height="26.10" fill="#b82531"/>
<text transform="translate(401.50,405.95) scale(0.92,1)" fill="#ffffff" stroke="#ffffff" class="an">0.83</text>
<text transform="translate(427.50,405.95) scale(0.92,1)" fill="#262626" stroke="#262626" class="an">0.64</text>
<text transform="translate(453.50,405.95) scale(0.92,1)" fill="#262626" stroke="#262626" class="an">0.71</text>
<text transform="translate(479.50,405.95) scale(0.92,1)" fill="#262626" stroke="#262626" class="an">0.62</text>
<text transform="translate(505.50,405.95) scale(0.92,1)" fill="#262626" stroke="#262626" class="an">0.71</text>
<text transform="translate(531.50,405.95) scale(0.92,1)" fill="#262626" stroke="#262626" class="an">0.72</text>
<text transform="translate(401.50,432.05) scale(0.92,1)" fill="#ffffff" stroke="#ffffff" class="an">0.84</text>
<text transform="translate(427.50,432.05) scale(0.92,1)" fill="#ffffff" stroke="#ffffff" class="an">0.88</text>
<text transform="translate(453.50,432.05) scale(0.92,1)" fill="#ffffff" stroke="#ffffff" class="an">0.85</text>
<text transform="translate(479.50,432.05) scale(0.92,1)" fill="#ffffff" stroke="#ffffff" class="an">0.89</text>
<text transform="translate(505.50,432.05) scale(0.92,1)" fill="#ffffff" stroke="#ffffff" class="an">0.88</text>
<text transform="translate(531.50,432.05) scale(0.92,1)" fill="#ffffff" stroke="#ffffff" class="an">0.88</text>
<text transform="translate(401.50,458.15) scale(0.92,1)" fill="#ffffff" stroke="#ffffff" class="an">0.85</text>
<text transform="translate(427.50,458.15) scale(0.92,1)" fill="#ffffff" stroke="#ffffff" class="an">0.9</text>
<text transform="translate(453.50,458.15) scale(0.92,1)" fill="#ffffff" stroke="#ffffff" class="an">0.88</text>
<text transform="translate(479.50,458.15) scale(0.92,1)" fill="#ffffff" stroke="#ffffff" class="an">0.87</text>
<text transform="translate(505.50,458.15) scale(0.92,1)" fill="#ffffff" stroke="#ffffff" class="an">0.9</text>
<text transform="translate(531.50,458.15) scale(0.92,1)" fill="#ffffff" stroke="#ffffff" class="an">0.89</text>
<text transform="translate(401.50,484.25) scale(0.92,1)" fill="#ffffff" stroke="#ffffff" class="an">0.86</text>
<text transform="translate(427.50,484.25) scale(0.92,1)" fill="#ffffff" stroke="#ffffff" class="an">0.91</text>
<text transform="translate(453.50,484.25) scale(0.92,1)" fill="#ffffff" stroke="#ffffff" class="an">0.89</text>
<text transform="translate(479.50,484.25) scale(0.92,1)" fill="#ffffff" stroke="#ffffff" class="an">0.88</text>
<text transform="translate(505.50,484.25) scale(0.92,1)" fill="#ffffff" stroke="#ffffff" class="an">0.91</text>
<text transform="translate(531.50,484.25) scale(0.92,1)" fill="#ffffff" stroke="#ffffff" class="an">0.88</text>
<text transform="translate(466.50,387.90) scale(0.92,1)" class="ti">RF with &quot;ecdf&quot; features on PAMAP2</text>
<text transform="translate(401.50,503.80) scale(0.92,1)" class="tk">5</text>
<text transform="translate(427.50,503.80) scale(0.92,1)" class="tk">10</text>
<text transform="translate(453.50,503.80) scale(0.92,1)" class="tk">20</text>
<text transform="translate(479.50,503.80) scale(0.92,1)" class="tk">30</text>
<text transform="translate(505.50,503.80) scale(0.92,1)" class="tk">40</text>
<text transform="translate(531.50,503.80) scale(0.92,1)" class="tk">50</text>
<text transform="translate(384.50,405.95) scale(0.92,1) rotate(-90)" class="tk">1.5</text>
<text transform="translate(384.50,432.05) scale(0.92,1) rotate(-90)" class="tk">3.0</text>
<text transform="translate(384.50,458.15) scale(0.92,1) rotate(-90)" class="tk">4.5</text>
<text transform="translate(384.50,484.25) scale(0.92,1) rotate(-90)" class="tk">6.0</text>
<text transform="translate(466.50,512.30) scale(0.92,1)" class="lb">fs</text>
<text transform="translate(376.50,442.60) scale(0.92,1) rotate(-90)" class="lb">win_len</text>
<text x="255.06" y="541.10" font-size="16.5" class="cap" fill="#111">(</text>
<text x="260.71" y="541.10" font-size="14" font-weight="bold" class="cap" fill="#111">c</text>
<text x="267.90" y="541.10" font-size="16.5" class="cap" fill="#111">)</text>
<text x="276.03" y="541.10" font-size="12" class="cap" fill="#111" textLength="15.00" lengthAdjust="spacingAndGlyphs">RF</text>
</svg>
</body></html>
